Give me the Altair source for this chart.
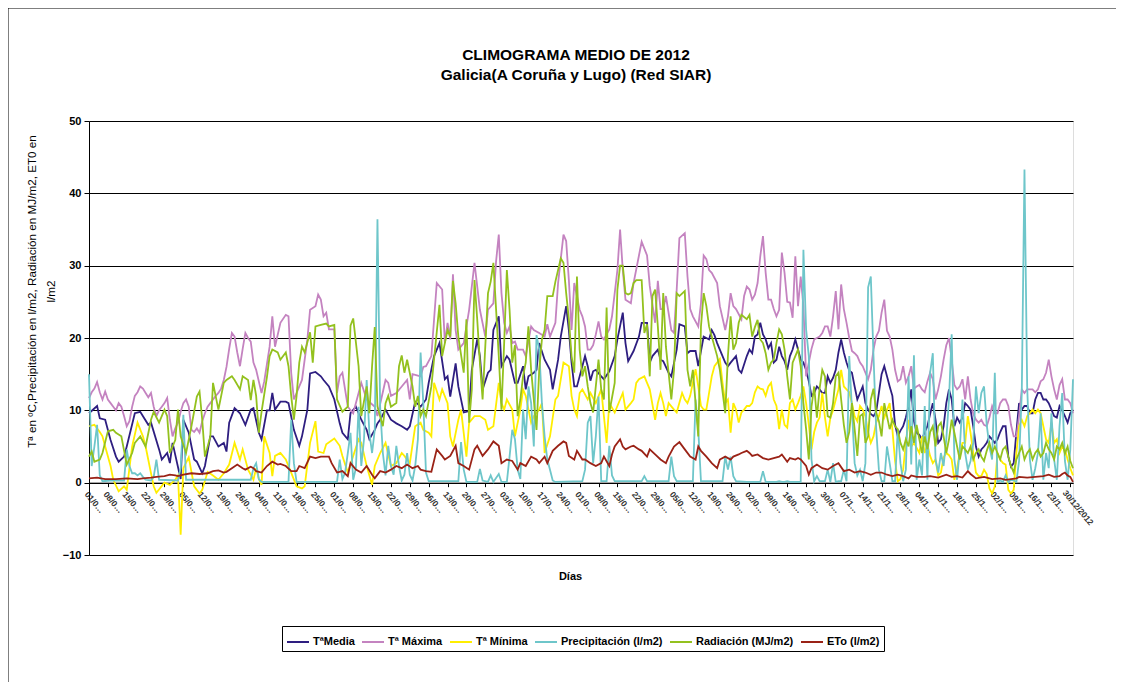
import altair as alt
import pandas as pd

SERIES = ["TªMedia", "Tª Máxima", "Tª Mínima", "Precipitación (l/m2)", "Radiación (MJ/m2)", "ETo (l/m2)"]
COLORES = ["#2E1E80", "#C483C0", "#FFEE00", "#6EC6CA", "#93C11E", "#9A2216"]

# ---- (día del año, valor) hasta el día 244; después valores diarios desde el día 245 ----
tmedia_a = [(0,9.6),(3,10.6),(4,8.9),(6,8.7),(8,5.9),(10,3.6),(11,2.9),(13,3.6),(14,5.0),(17,9.6),(19,9.8),(22,8.0),(23,8.3),(26,4.6),(27,3.2),(29,4.1),(30,2.7),(31,5.5),(34,0.5),(35,8.7),(37,6.9),(39,3.2),(40,2.9),(42,1.3),(43,2.3),(45,6.4),(46,6.4),(48,5.0),(50,5.5),(51,4.3),(52,8.3),(54,10.3),(56,9.6),(58,8.0),(60,10.1),(61,10.3),(63,6.9),(64,6.0),(66,10.0),(67,10.0),(68,12.4),(69,10.1),(71,11.2),(73,11.2),(74,11.0),(76,7.3),(78,5.1),(79,6.4),(81,10.1),(82,15.1),(84,15.3),(86,14.7),(87,14.2),(89,13.3),(91,11.5),(93,8.2),(94,6.9),(96,6.0),(97,9.6),(99,10.5),(101,8.7),(103,7.3),(104,6.0),(106,7.3),(107,8.2),(108,8.7),(110,10.1),(112,8.7),(114,8.2),(116,7.8),(118,7.3),(119,7.8),(121,11.2),(123,10.5),(125,11.5),(126,13.8),(128,17.5),(130,19.3),(132,14.3),(133,14.7),(134,11.9),(136,16.5),(137,13.3),(139,9.7),(141,9.9),(142,15.6),(144,19.8),(145,17.5),(146,12.9),(148,15.2),(149,15.6),(150,21.1),(152,23.0),(153,16.1),(155,17.5),(156,17.0),(158,13.8),(159,13.8),(161,16.1),(162,12.9),(163,14.7),(165,15.2),(166,15.6),(167,19.3),(169,17.0),(171,15.6),(172,12.9),(174,17.0),(175,20.2),(177,24.4),(178,21.1),(179,16.6),(180,13.3),(181,13.3),(183,16.1),(184,17.5),(185,16.1),(186,14.1),(187,15.4),(188,15.6),(190,14.7),(191,14.3),(193,15.4),(195,17.5),(196,19.8),(198,23.5),(199,19.3),(200,16.8),(202,18.2),(204,20.2),(205,22.1),(207,22.1),(208,16.6),(209,17.5),(211,18.4),(212,17.0),(213,16.8),(215,15.2),(216,14.7),(218,18.4),(219,21.9),(221,21.6),(222,17.9),(223,18.2),(225,18.2),(226,16.1),(227,18.2),(228,20.2),(230,19.8),(231,21.1),(232,20.4),(233,19.3),(235,17.5),(236,16.6),(237,16.1),(238,16.6),(240,17.5),(241,15.6),(242,15.2),(244,17.5)]
tmedia_b = [18.4,17.9,20.2,20.5,22.1,20.5,19.8,18.6,19.3,16.6,17.0,18.8,17.5,16.8,15.6,17.5,18.4,19.8,18.4,17.0,16.6,15.6,14.0,12.0,12.4,13.3,12.9,12.4,12.4,14.7,13.8,14.5,15.6,18.0,19.8,18.0,16.6,15.5,15.2,13.3,11.5,12.4,13.3,11.0,10.1,9.5,9.2,9.8,12.4,15.0,16.1,14.7,13.3,12.0,8.0,6.4,7.2,7.8,9.0,
            10.6,12.9,8.5,6.9,6.6,6.0,7.0,7.8,9.5,11.0,8.7,5.5,6.0,7.8,11.0,12.9,11.5,7.8,9.0,8.3,9.0,11.0,10.6,10.1,7.8,5.0,3.6,4.6,5.0,5.5,6.4,6.0,5.5,6.0,7.0,7.8,7.8,3.6,2.2,2.7,7.0,11.0,10.1,10.6,10.6,9.6,9.6,11.5,12.4,12.4,11.5,11.5,11.0,10.1,9.2,9.0,10.6,10.0,9.2,8.3,9.6,10.1]

tmax_a = [(0,11.7),(1,12.5),(2,13.0),(3,13.9),(4,12.5),(5,11.5),(6,12.6),(7,11.5),(8,11.0),(9,10.5),(10,10.0),(11,11.0),(12,10.5),(13,9.2),(14,7.8),(15,8.5),(16,10.5),(17,12.0),(18,12.5),(19,13.3),(20,13.0),(21,12.4),(22,11.8),(23,12.4),(24,10.5),(25,9.2),(26,10.0),(27,10.5),(28,11.0),(29,11.7),(30,8.7),(31,6.4),(32,7.5),(33,8.3),(34,9.8),(35,11.0),(36,11.5),(37,10.5),(38,7.3),(39,7.0),(40,7.5),(41,6.9),(42,8.5),(43,9.6),(44,10.5),(45,11.0),(46,11.5),(47,12.0),(48,12.4),(49,13.0),(50,14.2),(51,16.0),(52,18.5),(53,20.7),(54,20.2),(55,18.0),(56,16.1),(57,18.5),(58,20.7),(59,20.0),(60,19.5),(61,16.6),(62,15.6),(64,12.4),(65,14.0),(67,18.8),(68,23.0),(69,18.8),(71,22.1),(73,23.2),(74,23.0),(75,15.2),(76,11.5),(78,13.3),(79,14.2),(81,19.8),(82,23.9),(84,24.4),(85,26.0),(86,25.3),(87,23.0),(88,23.5),(89,21.2),(91,21.2),(92,12.4),(93,14.7),(94,15.2),(96,10.5),(98,9.6),(101,13.8),(103,11.5),(106,10.5),(107,9.2),(110,14.2),(111,13.8),(112,12.0),(114,12.4),(116,13.3),(118,14.2),(119,11.5),(120,15.0),(123,14.7),(124,16.0),(125,16.1),(127,17.5),(128,22.6),(129,27.6),(131,26.7),(132,19.3),(133,22.1),(134,19.8),(135,28.8),(136,21.1),(137,18.4),(139,19.3),(141,23.9),(143,30.4),(145,23.9),(147,20.2),(148,23.9),(150,24.8),(151,30.6),(152,34.3),(153,26.2),(154,22.1),(155,20.7),(156,21.6),(157,19.3),(158,19.5),(159,18.4),(161,18.4),(162,17.5),(164,21.6),(165,21.1),(167,20.7),(169,20.2),(170,21.9),(171,20.2),(173,22.1),(174,27.6),(176,34.3),(177,33.4),(178,28.0),(179,21.1),(180,27.6),(182,23.9),(183,23.0),(184,21.6),(185,18.4),(186,18.4),(187,19.0),(188,20.5),(189,22.3),(190,20.2),(191,19.8),(192,20.5),(193,21.2),(194,23.0),(196,29.4),(197,35.0),(198,29.4),(199,25.3),(201,24.8),(202,27.6),(204,31.4),(205,33.3),(207,31.4),(208,27.2),(210,22.1),(211,27.9),(212,24.0),(213,24.0),(214,25.8),(216,21.1),(217,20.7),(218,26.7),(219,33.8),(221,34.5),(222,28.5),(223,24.0),(224,23.0),(226,21.6),(227,24.8),(228,31.4),(229,30.9),(230,29.4),(231,29.0),(233,27.6),(234,24.4),(236,21.1),(237,23.0),(238,26.2),(239,24.4),(240,24.0),(242,22.6),(243,25.8),(244,27.1)]
tmax_b = [26.7,25.3,26.0,27.6,31.3,34.1,29.0,25.3,25.3,24.0,23.0,23.9,31.8,29.0,25.0,24.9,22.8,31.3,24.4,28.5,24.4,14.7,16.6,18.5,19.8,20.0,20.2,20.7,21.6,21.6,20.2,23.0,26.5,21.2,27.4,24.0,22.1,20.0,18.2,17.9,17.5,16.6,16.1,15.2,14.3,15.6,18.4,20.2,21.0,23.5,25.3,21.0,20.2,18.4,15.6,14.0,14.3,16.1,13.8,
          14.7,16.1,13.0,13.3,13.5,12.9,12.5,14.0,15.2,14.3,11.5,12.9,14.7,17.0,19.0,20.0,17.0,13.5,12.9,13.3,14.3,11.5,14.7,11.5,9.5,8.7,8.3,8.7,8.0,7.8,9.0,10.6,9.6,9.6,11.0,11.5,11.5,10.6,8.0,6.4,6.4,9.2,12.9,12.4,12.9,12.9,12.9,12.5,12.9,14.0,14.3,15.2,17.0,14.7,12.9,11.5,13.5,14.3,11.5,11.5,11.0,9.6]

tmin_a = [(0,7.8),(2,8.0),(4,7.0),(5,6.4),(6,5.0),(8,2.3),(9,0.4),(11,-1.2),(13,-0.5),(14,-1.0),(16,5.0),(18,8.3),(20,6.4),(21,5.0),(23,1.3),(24,-0.5),(25,-1.4),(28,0.0),(30,-0.3),(32,0.4),(33,1.0),(34,-7.2),(35,2.0),(37,3.5),(39,-0.5),(41,-1.5),(42,-1.0),(44,1.5),(46,1.0),(48,0.4),(50,1.3),(52,2.5),(54,5.5),(56,3.2),(57,4.6),(59,1.8),(61,0.4),(62,2.0),(63,0.5),(64,-0.3),(65,6.4),(67,4.1),(68,0.9),(69,3.7),(71,4.1),(73,3.2),(75,1.4),(77,-0.5),(79,-0.8),(80,-0.5),(82,5.5),(84,8.5),(85,4.3),(87,4.1),(88,5.3),(91,6.1),(93,5.1),(94,3.7),(96,1.4),(98,3.7),(100,6.0),(101,5.5),(103,2.3),(105,-0.3),(106,2.3),(108,4.1),(110,5.5),(112,2.3),(114,2.7),(116,4.1),(117,3.7),(119,2.7),(121,7.8),(123,8.3),(124,7.3),(126,6.9),(127,6.4),(128,13.8),(130,11.5),(131,12.9),(133,11.0),(134,6.4),(135,5.0),(137,8.7),(138,10.1),(140,3.6),(141,8.3),(143,9.2),(145,9.2),(147,8.7),(148,7.3),(150,7.8),(152,13.8),(153,11.0),(154,10.1),(155,11.5),(157,10.1),(158,6.4),(160,10.1),(161,12.9),(162,12.0),(164,8.3),(165,9.2),(167,10.1),(168,11.0),(169,4.1),(171,6.4),(173,11.5),(174,12.0),(176,16.6),(178,16.1),(179,12.0),(180,10.1),(181,9.2),(182,12.4),(183,12.9),(185,11.5),(186,12.4),(188,11.0),(190,12.9),(191,9.2),(192,5.5),(193,11.0),(195,9.7),(197,11.5),(198,12.4),(199,10.1),(201,11.0),(202,11.5),(203,13.8),(204,14.3),(206,14.7),(207,13.8),(208,12.9),(210,8.7),(211,11.0),(212,12.4),(213,11.0),(214,9.2),(215,11.0),(217,10.1),(218,9.7),(220,12.4),(221,11.5),(222,11.0),(223,12.0),(225,15.7),(226,13.3),(227,10.6),(228,10.1),(229,10.1),(231,14.7),(232,16.1),(234,17.1),(235,13.8),(236,11.0),(237,11.5),(238,6.9),(239,11.0),(240,10.1),(241,8.3),(242,9.7),(243,10.1),(244,10.6)]
tmin_b = [10.6,11.0,12.5,13.3,13.0,12.9,12.0,13.3,13.8,11.5,10.6,7.4,10.1,8.0,7.6,11.0,11.5,10.1,11.0,12.0,13.3,11.0,8.0,4.6,7.0,8.3,9.0,12.4,9.0,6.4,9.0,10.0,11.5,12.9,15.6,13.3,12.9,12.5,11.0,9.2,8.5,10.6,10.1,9.2,7.0,5.5,6.4,8.3,9.2,10.6,9.0,10.0,11.0,7.4,3.0,0.2,0.5,1.8,5.5,
          8.7,5.0,5.5,4.8,4.1,6.4,4.1,5.2,3.7,2.7,3.2,1.0,1.4,3.5,4.1,3.8,3.2,0.4,2.0,4.1,5.5,5.5,9.2,6.9,4.1,1.4,0.9,0.9,1.8,1.2,-0.8,-1.5,-0.5,4.1,3.2,2.7,2.5,-1.0,-1.5,-1.0,4.1,7.8,8.7,7.8,9.2,9.6,10.1,9.6,10.1,9.6,7.8,6.0,5.5,8.3,5.5,6.0,4.1,5.0,4.6,3.2,2.0,1.0]

precip_a = [(0,15.0),(1,2.3),(2,5.0),(3,8.0),(4,1.0),(5,0.2),(8,0.3),(13,0.3),(14,4.6),(15,2.3),(16,1.3),(17,1.3),(18,1.0),(19,1.3),(20,0.8),(21,0.4),(23,0.3),(24,0.8),(25,3.2),(26,0.4),(33,0.3),(34,2.0),(35,9.4),(36,0.4),(60,0.4),(61,2.0),(62,2.7),(63,0.5),(64,0.1),(74,0.1),(75,8.7),(76,2.7),(77,0.1),(92,0.1),(93,3.2),(94,0.5),(95,1.4),(96,4.1),(97,6.9),(98,0.4),(99,2.0),(100,10.5),(101,2.3),(102,6.0),(103,14.2),(104,6.9),(105,4.1),(106,7.3),(107,36.4),(108,10.5),(109,4.1),(110,1.0),(111,5.1),(112,2.3),(113,1.1),(114,5.1),(115,2.3),(116,0.3),(117,1.1),(118,4.1),(119,1.1),(120,0.3),(121,2.3),(122,6.0),(123,18.0),(124,11.0),(125,1.4),(126,0.2),(137,0.2),(138,5.6),(139,1.8),(140,0.1),(144,0.1),(145,1.9),(146,0.3),(148,0.1),(149,1.0),(150,0.1),(152,1.2),(153,0.1),(155,0.1),(156,3.6),(157,7.3),(158,6.0),(159,1.8),(160,0.5),(161,10.1),(162,6.0),(163,13.3),(164,11.0),(165,5.0),(166,20.4),(167,18.4),(168,11.0),(169,6.4),(170,3.2),(171,1.8),(172,0.3),(173,0.1),(183,0.2),(184,1.8),(185,8.3),(186,9.2),(187,2.7),(188,6.4),(189,11.9),(190,0.2),(192,0.2),(193,5.1),(194,1.0),(195,0.2),(205,0.2),(206,0.9),(207,0.2),(215,0.2),(216,3.6),(217,0.9),(218,0.2),(224,0.2),(225,11.5),(226,7.3),(227,0.2),(235,0.2),(236,3.6),(237,1.8),(238,3.6),(239,0.9),(240,0.2),(244,0.1)]
precip_b = [0.1,0.1,0.1,0.1,0.1,1.6,0.1,0.1,0.1,0.1,0.1,0.2,0.1,0.1,0.2,0.1,0.1,0.1,0.1,0.1,32.2,21.2,17.5,3.2,0.2,0.9,0.2,0.2,0.2,1.8,0.1,2.7,0.1,0.2,0.2,1.8,0.2,17.5,10.1,2.7,1.0,1.8,0.2,2.7,27.0,28.5,17.5,7.4,1.8,0.2,0.2,5.0,2.7,0.2,0.2,7.4,2.7,0.2,1.8,
            14.7,2.5,17.6,0.4,3.2,1.0,10.6,0.4,15.2,17.9,3.2,1.4,4.1,2.3,6.0,11.5,20.5,3.2,0.4,4.6,11.5,4.1,1.8,3.0,5.5,13.3,9.6,12.4,13.3,8.0,5.0,3.2,15.2,0.1,0.3,0.1,1.0,0.1,0.4,0.3,0.1,3.0,12.4,43.3,13.3,3.2,0.4,2.0,4.1,9.6,0.4,4.1,2.0,9.6,3.2,0.4,7.8,12.4,3.0,0.4,4.6,14.3]

rad_a = [(0,3.6),(1,4.3),(2,2.9),(4,3.2),(5,4.1),(7,7.1),(9,7.3),(10,6.9),(12,6.4),(14,2.5),(16,4.1),(17,5.5),(19,6.4),(21,5.0),(23,8.7),(24,9.8),(26,8.3),(28,10.1),(29,9.2),(30,4.1),(32,5.9),(33,10.1),(34,6.4),(36,4.1),(38,7.8),(40,11.9),(41,12.6),(42,8.7),(43,3.6),(45,6.4),(46,13.8),(48,10.1),(50,13.8),(51,14.2),(53,14.7),(54,14.2),(56,12.9),(57,14.7),(59,14.2),(60,11.4),(61,14.2),(62,12.0),(63,6.9),(64,9.8),(66,14.6),(67,17.5),(68,18.4),(70,18.0),(71,17.0),(73,18.0),(74,16.1),(75,12.0),(76,8.7),(77,12.0),(78,16.6),(79,18.8),(80,18.0),(82,20.8),(83,16.6),(84,21.6),(86,21.8),(88,22.0),(89,21.6),(91,21.8),(92,11.5),(94,9.8),(96,10.5),(97,21.7),(98,22.7),(100,16.1),(101,9.2),(103,13.3),(104,9.6),(105,16.1),(106,21.5),(107,10.5),(109,7.8),(110,11.0),(111,12.0),(112,10.5),(114,11.0),(115,16.1),(116,17.6),(117,15.2),(118,17.0),(120,13.3),(121,10.5),(122,12.0),(123,9.2),(124,10.1),(125,9.2),(127,13.3),(130,24.6),(131,17.5),(132,19.3),(133,21.1),(134,20.2),(135,27.9),(136,24.8),(137,20.2),(139,15.2),(140,22.6),(141,8.3),(142,12.9),(143,28.0),(144,22.6),(145,16.6),(146,11.5),(148,26.2),(149,27.8),(150,30.4),(152,17.5),(153,10.1),(154,19.3),(155,29.4),(156,23.9),(157,16.6),(158,19.0),(159,9.2),(160,11.5),(161,14.7),(162,16.6),(163,21.6),(164,15.6),(166,7.3),(167,15.6),(168,19.8),(169,21.1),(170,25.8),(172,25.8),(173,27.8),(175,31.0),(176,30.4),(177,26.2),(178,22.6),(179,17.5),(180,15.2),(181,28.5),(182,18.4),(183,14.7),(184,16.1),(185,13.3),(186,11.0),(187,9.7),(189,17.0),(190,12.9),(191,11.5),(192,24.2),(193,9.7),(195,13.8),(196,26.7),(197,30.0),(198,30.0),(199,26.2),(200,26.0),(201,26.2),(202,27.6),(203,28.0),(205,28.0),(206,20.7),(207,21.9),(208,14.7),(209,25.8),(210,26.7),(211,21.6),(212,15.6),(213,26.2),(214,18.8),(216,11.5),(217,15.6),(218,26.2),(219,25.8),(221,26.5),(222,15.6),(223,13.3),(224,15.6),(226,6.4),(227,21.6),(228,26.2),(229,24.4),(230,21.6),(231,20.2),(233,17.5),(234,15.6),(236,9.6),(237,17.5),(238,23.0),(239,18.4),(240,19.3),(241,22.1),(242,23.2),(244,22.6)]
rad_b = [23.2,20.2,21.5,22.5,19.8,19.3,17.9,15.6,16.6,17.0,19.3,21.2,20.5,18.4,14.7,11.5,16.6,17.5,18.4,16.1,11.0,7.4,3.2,10.5,13.3,9.0,13.0,15.6,14.7,9.2,9.0,11.0,14.7,15.2,11.5,8.0,5.5,7.0,11.0,7.4,3.7,9.2,9.5,5.5,6.4,11.5,13.0,9.7,8.5,6.4,11.0,9.2,7.4,8.7,7.8,7.4,5.5,4.6,6.0,
         5.0,7.8,5.5,8.0,6.0,4.1,6.4,4.6,7.0,7.8,5.0,7.8,8.3,6.4,4.1,6.0,8.7,6.9,5.0,3.2,5.0,4.6,4.1,5.0,3.2,4.1,4.6,3.6,3.0,4.4,5.5,4.1,5.0,4.1,3.2,4.6,5.0,3.6,2.3,1.4,3.2,4.1,5.0,3.2,4.1,4.6,3.2,4.1,4.6,3.6,4.1,5.5,4.6,4.1,3.2,5.0,4.6,5.5,4.0,5.0,3.0,2.0]

eto_a = [(0,0.6),(3,0.7),(6,0.5),(10,0.5),(14,0.6),(18,0.5),(20,0.6),(23,0.7),(25,0.8),(28,0.9),(30,1.1),(32,1.0),(33,0.9),(35,1.1),(38,1.3),(41,1.2),(44,1.3),(46,1.6),(48,1.7),(50,1.4),(51,1.5),(53,2.0),(55,2.5),(57,2.0),(58,1.8),(60,2.2),(61,2.0),(62,1.6),(64,1.4),(66,2.3),(68,2.9),(70,2.5),(71,2.6),(73,2.3),(75,1.6),(77,1.6),(78,2.3),(80,2.0),(82,3.6),(84,3.4),(86,3.6),(89,3.6),(90,2.7),(92,1.4),(94,1.6),(96,0.9),(97,2.7),(99,1.8),(101,1.4),(103,2.3),(105,1.1),(106,0.6),(108,1.6),(110,1.4),(112,1.8),(114,2.3),(116,2.0),(118,2.5),(120,2.0),(122,2.3),(123,1.8),(125,1.6),(127,1.5),(129,4.6),(131,3.7),(132,3.2),(134,3.7),(136,5.1),(137,2.7),(139,2.3),(141,1.8),(143,4.6),(144,5.1),(146,3.7),(148,4.6),(150,5.7),(152,5.1),(153,2.7),(155,3.2),(157,3.0),(159,1.8),(160,2.7),(162,2.3),(164,3.6),(166,3.2),(167,2.7),(169,3.6),(170,2.7),(172,4.4),(174,5.1),(176,5.7),(177,5.5),(178,3.7),(180,3.2),(181,4.4),(183,3.2),(184,3.2),(186,2.7),(188,2.3),(190,2.7),(191,3.6),(193,2.3),(194,3.9),(195,5.0),(197,6.0),(198,5.0),(199,4.6),(201,5.0),(202,5.1),(204,4.6),(205,4.4),(207,3.6),(208,4.6),(210,3.9),(212,3.2),(214,2.7),(215,3.6),(217,5.0),(219,5.6),(221,4.6),(223,3.6),(225,3.2),(226,5.0),(227,4.4),(229,3.6),(231,2.7),(233,2.0),(234,3.2),(236,3.6),(238,3.2),(239,3.6),(241,3.9),(242,4.1),(244,4.4),(245,4.1),(246,3.7),(248,3.9),(250,3.4),(252,3.2),(254,3.4),(256,3.6),(257,3.9),(259,2.9),(260,3.4),(262,3.2),(263,3.4),(264,3.2),(266,2.3),(267,1.1),(268,2.0),(270,2.5),(272,2.0),(274,1.8),(276,2.3),(278,2.7),(280,1.6),(282,1.8),(284,1.4),(286,1.6),(288,1.4),(290,1.1),(292,1.4),(294,1.4),(296,1.1),(298,0.9),(300,1.1),(302,0.9),(304,0.6),(305,1.0),(307,0.8),(310,0.8),(312,0.9),(315,0.7),(318,1.1),(320,0.8),(322,0.9),(324,0.7),(326,1.6),(327,1.2),(329,0.6),(332,0.8),(335,0.5),(338,0.6),(340,0.4),(342,0.5),(344,0.6),(345,0.8),(348,0.7),(351,0.8),(354,0.9),(356,1.1),(358,0.8),(360,0.9),(361,1.2),(362,1.4),(363,1.0),(364,0.8),(365,0.1)]
eto_b = []

# ---- eje X: una marca por semana ----
dias_ticks = list(range(0, 365, 7))
etiquetas_ticks = [d.strftime("%d/%m/%Y") for d in pd.date_range("2012-01-01", "2012-12-30", freq="7D")]

TITULO = ["CLIMOGRAMA MEDIO DE 2012", "Galicia(A Coruña y Lugo) (Red SIAR)"]
TITULO_Y = ["Tª en ºC,Precipitación en l/m2, Radiación en MJ/m2, ET0 en", "l/m2"]
TITULO_X = "Días"

FONT = "Liberation Sans"


def filas(nombre, pares, diarios):
    out = [(nombre, d, v) for d, v in pares]
    out += [(nombre, 245 + i, v) for i, v in enumerate(diarios)]
    return out


rows = []
for nombre, a, b in zip(SERIES,
                        [tmedia_a, tmax_a, tmin_a, precip_a, rad_a, eto_a],
                        [tmedia_b, tmax_b, tmin_b, precip_b, rad_b, eto_b]):
    rows += filas(nombre, a, b)
df = pd.DataFrame(rows, columns=["serie", "dia", "valor"])

W, H = 984, 434

# the last weekly label is drawn in full by a text layer, the others are clipped like the original
expr_labels = ["'" + t + "'" for t in etiquetas_ticks[:-1]] + ["''"]
label_expr = "[" + ",".join(expr_labels) + "][round(datum.value / 7)]"

x_enc = alt.X(
    "dia:Q",
    scale=alt.Scale(domain=[0, 365], nice=False, zero=False),
    axis=alt.Axis(
        values=dias_ticks, tickCount=len(dias_ticks) + 5, labelExpr=label_expr,
        labelAngle=50, labelAlign="left", labelBaseline="top", labelLimit=27,
        labelFontSize=8.5, labelFontWeight="bold", labelColor="#333333",
        labelOverlap=False, labelPadding=3, tickSize=4, tickColor="black",
        domainColor="black", offset=-H / 6.0, grid=False, title=TITULO_X,
        titleFontSize=11, titleFontWeight="bold", titleX=481, titleY=94,
        titleBaseline="middle", labelFont=FONT, titleFont=FONT,
    ),
)
y_enc = alt.Y(
    "valor:Q",
    scale=alt.Scale(domain=[-10, 50], nice=False),
    axis=alt.Axis(
        values=[-10, 0, 10, 20, 30, 40, 50], format="d", grid=True, gridColor="black",
        gridWidth=1, domainColor="black", tickColor="black", tickSize=5,
        labelFontSize=11, labelFontWeight="bold", labelFont=FONT, labelPadding=3,
        title=TITULO_Y, titleFontSize=11.7, titleFontWeight="normal", titleFont=FONT,
        titleX=-58, titleY=170, titleBaseline="middle", titleLineHeight=19,
    ),
)
color_enc = alt.Color(
    "serie:N",
    scale=alt.Scale(domain=SERIES, range=COLORES),
    legend=alt.Legend(
        title=None, orient="none", legendX=193, legendY=505, direction="horizontal",
        columns=6, strokeColor="black", fillColor="white", padding=4,
        symbolType="stroke", symbolSize=484, symbolStrokeWidth=2, labelFontSize=11,
        labelFontWeight="bold", labelFont=FONT, columnPadding=3, labelOffset=3,
    ),
)

lines = [
    alt.Chart(df[df["serie"] == s]).mark_line(strokeWidth=1.8).encode(x=x_enc, y=y_enc, color=color_enc)
    for s in SERIES
]

df_last = pd.DataFrame({"dia": [dias_ticks[-1]], "valor": [0], "texto": [etiquetas_ticks[-1]]})
last_label = alt.Chart(df_last).mark_text(
    angle=50, align="left", baseline="top", fontSize=8.5, fontWeight="bold", font=FONT,
    color="#333333", dx=3, dy=6
).encode(x=alt.X("dia:Q"), y=alt.Y("valor:Q"), text="texto:N")

df_frame = pd.DataFrame({"k": [1]})
frame = alt.Chart(df_frame).mark_rect(fillOpacity=0, stroke="black", strokeWidth=1).encode(
    x=alt.value(-81), x2=alt.value(1060), y=alt.value(-113), y2=alt.value(620)
)

chart = alt.layer(frame, *lines, last_label).properties(
    width=W, height=H,
    title=alt.TitleParams(text=TITULO, fontSize=15.5, fontWeight="bold", font=FONT,
                          anchor="middle", offset=-76, dx=-5, lineHeight=20, color="black"),
    padding={"left": 81, "top": 113, "right": 43, "bottom": 130},
    autosize=alt.AutoSizeParams(type="none"),
).configure_view(stroke="#8c8c8c").configure(font=FONT, background="white")

chart.save("out.html", embed_options={"renderer": "svg", "actions": False})
